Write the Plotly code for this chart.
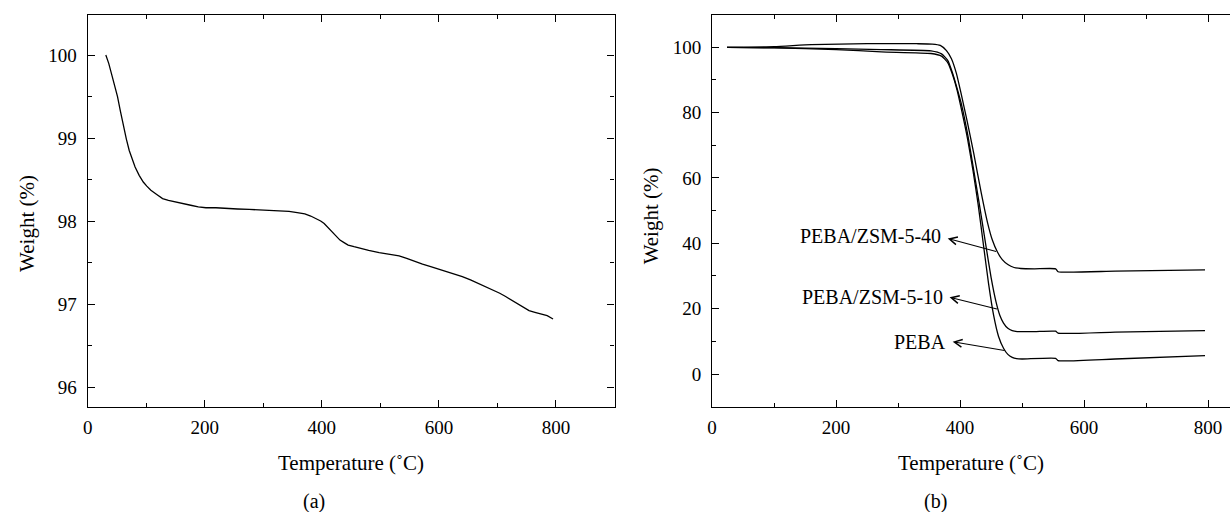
import plotly.graph_objects as go

# ---------------- data (a) ----------------
temp_a = [31, 36, 42, 46, 51, 56, 61, 66, 71, 76, 81, 88, 95, 101, 108, 118, 128, 138, 149, 162,
          176, 189, 202, 219, 236, 256, 276, 296, 317, 330, 344, 358, 371, 381, 391, 398, 404, 411,
          418, 425, 431, 438, 445, 455, 465, 480, 498, 515, 532, 545, 559, 572, 586, 600, 613, 627,
          640, 654, 667, 681, 694, 704, 714, 724, 734, 744, 754, 764, 774, 785, 795]
weight_a = [100.0, 99.9, 99.74, 99.63, 99.5, 99.32, 99.14, 98.99, 98.85, 98.74, 98.65, 98.55, 98.47,
            98.42, 98.37, 98.32, 98.27, 98.25, 98.23, 98.21, 98.19, 98.17, 98.16, 98.16, 98.15,
            98.145, 98.14, 98.135, 98.13, 98.125, 98.115, 98.10, 98.085, 98.06, 98.03, 98.0, 97.97,
            97.92, 97.87, 97.82, 97.77, 97.74, 97.71, 97.69, 97.67, 97.645, 97.62, 97.60, 97.58,
            97.55, 97.51, 97.48, 97.45, 97.42, 97.39, 97.36, 97.33, 97.29, 97.25, 97.21, 97.17,
            97.13, 97.09, 97.05, 97.0, 96.96, 96.92, 96.9, 96.88, 96.86, 96.82]

# ---------------- data (b) ----------------
temp_z40 = [24, 100, 160, 250, 330, 355, 368, 378, 386, 394, 402, 411, 422, 434, 444, 452, 460, 468,
            477, 487, 498, 520, 554, 558, 650, 795]
weight_z40 = [100, 100.2, 100.8, 101.1, 101.1, 101.0, 100.6, 99.0, 96.5, 92.0, 85.5, 77.7, 67.5, 55.5,
              46.5, 41.0, 37.4, 35.0, 33.5, 32.6, 32.3, 32.2, 32.2, 31.3, 31.5, 31.9]

temp_z10 = [24, 100, 200, 273, 353, 370, 380, 388, 395, 402, 413, 422, 431, 441, 450, 458, 464, 470,
            477, 484, 492, 520, 554, 558, 650, 795]
weight_z10 = [100, 99.9, 99.6, 99.3, 98.9, 98.0, 96.0, 92.0, 87.5, 82.7, 72.5, 62.3, 52.0, 40.0, 29.5,
              22.0, 18.0, 15.6, 14.0, 13.3, 13.0, 13.0, 13.1, 12.5, 12.8, 13.3]

temp_peba = [24, 100, 200, 273, 353, 370, 380, 388, 395, 401, 412, 421, 429, 438, 446, 454, 462, 470,
             477, 484, 491, 500, 554, 558, 650, 795]
weight_peba = [100, 99.8, 99.3, 98.6, 98.1, 97.3, 95.3, 91.5, 87.0, 82.0, 72.0, 62.0, 52.0, 39.0, 27.5,
               18.0, 11.5, 7.9, 6.0, 5.1, 4.7, 4.6, 4.8, 4.1, 4.6, 5.6]

label_names = ["PEBA/ZSM-5-40", "PEBA/ZSM-5-10", "PEBA"]

FONT = "Liberation Serif"
LW = 1.3

fig = go.Figure()
fig.add_trace(go.Scatter(x=temp_a, y=weight_a, mode="lines", line=dict(color="black", width=LW),
                         xaxis="x", yaxis="y", showlegend=False))
for t, w in [(temp_z40, weight_z40), (temp_z10, weight_z10), (temp_peba, weight_peba)]:
    fig.add_trace(go.Scatter(x=t, y=w, mode="lines",
                             line=dict(color="black", width=LW, shape="spline", smoothing=0.5),
                             xaxis="x2", yaxis="y2", showlegend=False))

H = 512
W = 1230
ydom = [1 - 407 / H, 1 - 14.7 / H]

axis_common = dict(showline=True, linecolor="black", linewidth=LW, ticks="inside", ticklen=7,
                   tickwidth=LW, tickcolor="black", showgrid=False, zeroline=False,
                   tickfont=dict(family=FONT, size=19, color="black"))

fig.update_layout(
    width=W, height=H, margin=dict(l=0, r=0, t=0, b=0),
    paper_bgcolor="white", plot_bgcolor="white",
    xaxis=dict(domain=[83 / W, 612 / W], range=[0, 900], tick0=0, dtick=200, mirror="ticks",
               minor=dict(ticks="inside", ticklen=4, dtick=100, tickcolor="black", tickwidth=LW),
               ticklabelstandoff=3, anchor="y", **axis_common),
    yaxis=dict(domain=ydom, range=[95.759, 100.486], tick0=96, dtick=1, mirror="ticks",
               minor=dict(ticks="inside", ticklen=4, dtick=0.5, tickcolor="black", tickwidth=LW),
               ticklabelstandoff=6, anchor="x", **axis_common),
    xaxis2=dict(domain=[710 / W, 1.0], range=[0, 835.3], tick0=0, dtick=200, mirror="ticks",
                minor=dict(ticks="inside", ticklen=4, dtick=100, tickcolor="black", tickwidth=LW),
                ticklabelstandoff=3, anchor="y2", **axis_common),
    yaxis2=dict(domain=ydom, range=[-10.1, 109.98], tick0=0, dtick=20, mirror=False,
                minor=dict(ticks="inside", ticklen=4, dtick=10, tickcolor="black", tickwidth=LW),
                ticklabelstandoff=6, anchor="x2", **axis_common),
)

tfont = dict(family=FONT, size=21, color="black")
ann = [
    dict(text="Temperature (˚C)", x=(83 + 612) / 2 / W, y=1 - 463 / H, xref="paper", yref="paper",
         showarrow=False, font=tfont, xanchor="center", yanchor="middle"),
    dict(text="Temperature (˚C)", x=(710 + 1230) / 2 / W, y=1 - 463 / H, xref="paper", yref="paper",
         showarrow=False, font=tfont, xanchor="center", yanchor="middle"),
    dict(text="(a)", x=310 / W, y=-0.006, xref="paper", yref="paper",
         showarrow=False, font=dict(family=FONT, size=20, color="black"), xanchor="center", yanchor="bottom"),
    dict(text="(b)", x=934 / W, y=-0.006, xref="paper", yref="paper",
         showarrow=False, font=dict(family=FONT, size=20, color="black"), xanchor="center", yanchor="bottom"),
    dict(text="Weight (%)", x=22 / W, y=1 - 223 / H, xref="paper", yref="paper", textangle=-90,
         showarrow=False, font=tfont, xanchor="center", yanchor="middle"),
    dict(text="Weight (%)", x=649 / W, y=1 - 216 / H, xref="paper", yref="paper", textangle=-90,
         showarrow=False, font=tfont, xanchor="center", yanchor="middle"),
]

lfont = dict(family=FONT, size=20, color="black")
# label text positions (right end) and arrows (head near text, tail on curve)
label_pos = [(372, 42.2), (375, 23.7), (380, 9.9)]
arrow_head = [(380, 41.5), (383, 23.5), (388, 9.9)]
arrow_tail = [(460.5, 37.4), (461.8, 19.8), (474, 7.1)]
for name, (tx, ty), (hx, hy), (cx, cy) in zip(label_names, label_pos, arrow_head, arrow_tail):
    ann.append(dict(text=name, x=tx, y=ty, xref="x2", yref="y2", showarrow=False, font=lfont,
                    xanchor="right", yanchor="middle"))
    ann.append(dict(text="", x=hx, y=hy, xref="x2", yref="y2", ax=cx, ay=cy, axref="x2", ayref="y2",
                    showarrow=True, arrowhead=5, arrowsize=1.4, arrowwidth=1.1, arrowcolor="black",
                    standoff=0, startstandoff=0))
fig.update_layout(annotations=ann)

fig.write_html("out.html", config={"displayModeBar": False},
               post_script="document.body.style.margin='0';document.body.style.overflow='hidden';")
